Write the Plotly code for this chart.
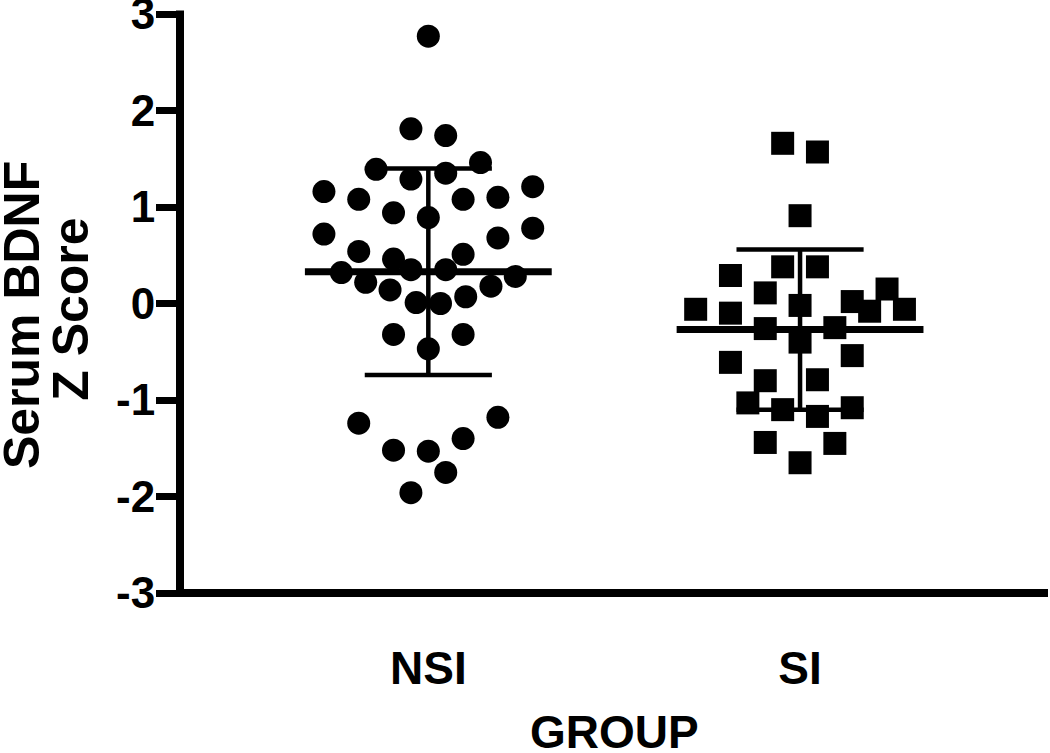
import plotly.graph_objects as go

# ---- data ----
GROUPS = ["NSI", "SI"]
Y_TICKS = [-3, -2, -1, 0, 1, 2, 3]
Y_TITLE = ["Serum BDNF", "Z Score"]
X_TITLE = "GROUP"

NSI_Z = [2.77, 1.81, 1.74, 1.39, 1.46, 1.29, 1.35, 1.16, 1.08, 1.08, 1.10, 1.21,
         0.94, 0.89, 0.72, 0.68, 0.78, 0.54, 0.51, 0.46, 0.32, 0.35, 0.35, 0.28,
         0.22, 0.14, 0.18, 0.01, 0.00, 0.07, -0.32, -0.32, -0.47, -1.24, -1.18,
         -1.40, -1.52, -1.53, -1.75, -1.96]
NSI_SLOT = [0, -1, 1, -3, 3, -1, 1, -6, -4, 2, 4, 6,
            -2, 0, -6, 4, 6, -4, 2, -2, -5, -1, 1, 5,
            -3.6, -2.2, 3.6, -0.7, 0.7, 2.15, -2, 2, 0, -4, 4,
            2, -2, 0, 1, -1]

SI_Z = [1.66, 1.57, 0.91, 0.38, 0.38, 0.29, 0.11, -0.06, -0.10, -0.02, 0.02,
        -0.08, 0.15, -0.06, -0.26, -0.25, -0.40, -0.61, -0.54, -0.80, -0.79,
        -1.03, -1.10, -1.17, -1.08, -1.44, -1.45, -1.65]
SI_SLOT = [-1, 1, 0, -1, 1, -4, -2, -6, -4, 0, 3,
           4, 5, 6, -2, 2, 0, -4, 3, -2, 1,
           -3, -1, 1, 3, -2, 2, 0]

MEANS = [0.33, -0.27]
SDS = [1.07, 0.83]

# ---- styling ----
SLOT_W = 0.0468
MEAN_HALF = 0.332
CAP_HALF = 0.171
FONT = "Liberation Sans, Arial, sans-serif"
AX_W = 8

fig = go.Figure()

for gi, (vals, slots, sym) in enumerate([(NSI_Z, NSI_SLOT, "circle"),
                                         (SI_Z, SI_SLOT, "square")]):
    cx = gi + 1
    fig.add_trace(go.Scatter(
        x=[cx + s * SLOT_W for s in slots], y=vals, mode="markers",
        marker=dict(symbol=sym, size=23, color="black", line=dict(width=0)),
        showlegend=False, hoverinfo="y"))

for gi in range(2):
    cx = gi + 1
    m, sd = MEANS[gi], SDS[gi]
    fig.add_trace(go.Scatter(x=[cx - MEAN_HALF, cx + MEAN_HALF], y=[m, m],
                             mode="lines", line=dict(color="black", width=7),
                             showlegend=False, hoverinfo="skip"))
    fig.add_trace(go.Scatter(
        x=[cx, cx, None, cx - CAP_HALF, cx + CAP_HALF, None, cx - CAP_HALF, cx + CAP_HALF],
        y=[m - sd, m + sd, None, m + sd, m + sd, None, m - sd, m - sd],
        mode="lines", line=dict(color="black", width=4.5),
        showlegend=False, hoverinfo="skip"))

# axis lines centred on the plot edges (as in the original)
fig.add_shape(type="line", xref="paper", yref="paper", x0=-0.0046, x1=1.0,
              y0=0, y1=0, line=dict(color="black", width=AX_W), layer="above")
fig.add_shape(type="line", xref="paper", yref="paper", x0=0, x1=0,
              y0=-0.0069, y1=1.006, line=dict(color="black", width=AX_W),
              layer="above")

fig.update_layout(
    width=1050, height=753,
    margin=dict(l=180, r=2, t=14, b=160),
    paper_bgcolor="white", plot_bgcolor="white",
    font=dict(family=FONT, color="black"),
    xaxis=dict(
        range=[0.332, 2.667], tickmode="array", tickvals=[1, 2],
        ticktext=["<b>%s</b>" % g for g in GROUPS],
        tickfont=dict(size=46, family=FONT), ticks="outside", ticklen=35,
        tickcolor="rgba(0,0,0,0)", showgrid=False,
        zeroline=False, showline=False, automargin=False,
    ),
    yaxis=dict(
        range=[-3, 3], tickmode="array", tickvals=Y_TICKS,
        ticktext=["<b>%d</b>" % t for t in Y_TICKS],
        tickfont=dict(size=44, family=FONT), ticks="outside", ticklen=23,
        tickwidth=7, tickcolor="black", showgrid=False, zeroline=False,
        showline=False,
        ticklabelstandoff=-8, ticklabeloverflow="allow", automargin=False,
    ),
    annotations=[
        dict(text="<b>%s</b>" % Y_TITLE[0], xref="paper", yref="paper",
             x=-0.182, y=0.48, textangle=-90, showarrow=False,
             font=dict(size=50, family=FONT), xanchor="center", yanchor="middle"),
        dict(text="<b>%s</b>" % Y_TITLE[1], xref="paper", yref="paper",
             x=-0.125, y=0.49, textangle=-90, showarrow=False,
             font=dict(size=50, family=FONT), xanchor="center", yanchor="middle"),
        dict(text="<b>%s</b>" % X_TITLE, xref="paper", yref="paper",
             x=0.5, y=-0.24, showarrow=False,
             font=dict(size=46, family=FONT), xanchor="center", yanchor="middle"),
    ],
)

fig.write_html("out.html", config={"displayModeBar": False},
               post_script="document.body.style.margin='0';document.body.style.overflow='hidden';")
